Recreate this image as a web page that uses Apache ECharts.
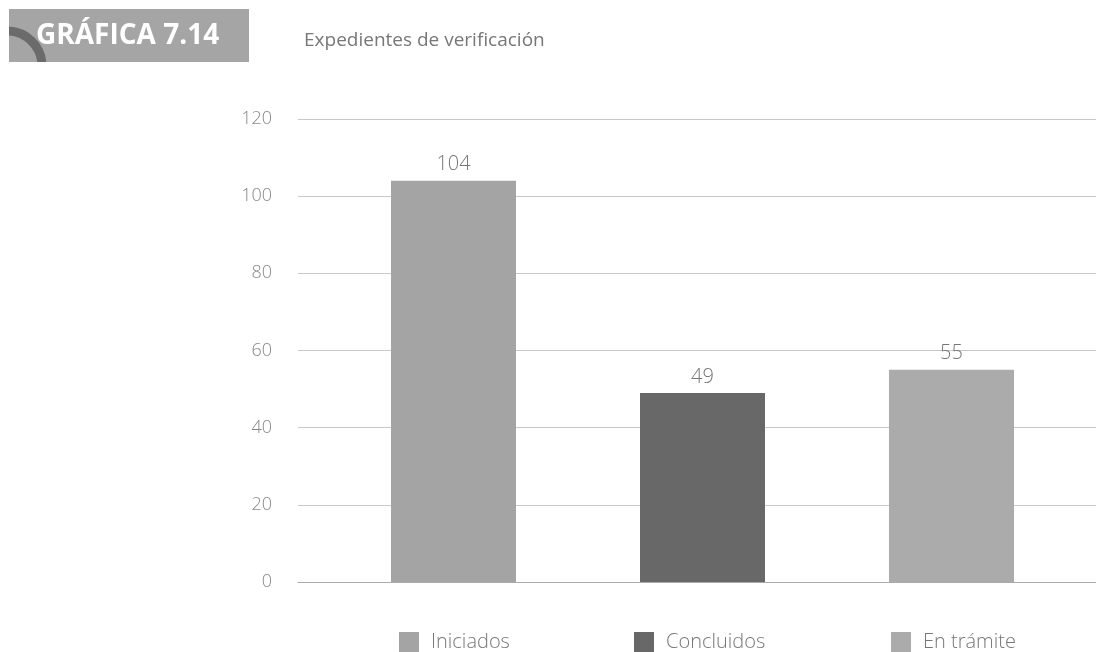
<!DOCTYPE html>
<html><head><meta charset="utf-8">
<script src="https://cdn.jsdelivr.net/npm/echarts@6/dist/echarts.min.js"></script>
<style>html,body{margin:0;padding:0;background:#fff}#c{width:1096px;height:652px}</style>
</head><body><div id="c"></div>
<script>
const categories = ['Iniciados', 'Concluidos', 'En trámite'];
const values = [104, 49, 55];
const yTicks = [0, 20, 40, 60, 80, 100, 120];
const colors = ['#a4a4a4', '#686868', '#ababab'];

const chart = echarts.init(document.getElementById('c'));
const font = '"Open Sans", "Noto Sans", sans-serif';
const series = categories.map((name, i) => ({
  name: name,
  type: 'bar',
  xAxisIndex: 0, yAxisIndex: 0,
  barWidth: 125,
  barGap: '-100%',
  itemStyle: { color: colors[i] },
  label: { show: true, position: 'top', distance: 6, color: '#777', fontSize: 20, fontFamily: font, fontWeight: 300 },
  data: categories.map((c, j) => j === i ? values[i] : '-')
}));
const legendX = [399, 634, 891];
chart.setOption({
  animation: false,
  title: [
    { text: 'GRÁFICA 7.14', left: 36, top: 22, padding: 0, textStyle: { color: '#fff', fontSize: 28, fontWeight: 'bold', fontFamily: font } },
    { text: 'Expedientes de verificación', left: 304, top: 31, padding: 0, textStyle: { color: '#777', fontSize: 19, fontWeight: 'normal', fontFamily: font } }
  ],
  graphic: [
    { type: 'rect', left: 9, top: 9, z: -1, shape: { width: 240, height: 53 }, style: { fill: '#a5a5a5' } },
    { type: 'group', z: 0, children: [
      { type: 'arc', shape: { cx: 7, cy: 66, r: 35, startAngle: -Math.PI / 2, endAngle: 0 }, style: { stroke: '#6b6b6b', lineWidth: 9, fill: null },
        clipPath: { type: 'rect', shape: { x: 9, y: 9, width: 240, height: 53 } } }
    ]}
  ],
  legend: categories.map((c, i) => ({
    data: [c], left: legendX[i], top: 632, padding: 0, itemWidth: 20, itemHeight: 20, itemGap: 12,
    icon: 'rect', textStyle: { color: '#777', fontSize: 20, fontFamily: font, fontWeight: 300, padding: [0, 0, 0, 7] }
  })),
  grid: [
    { left: 329, right: 20, top: 119, bottom: 70 },
    { left: 298, right: 0, top: 119, bottom: 70 }
  ],
  xAxis: [
    { type: 'category', gridIndex: 0, data: categories, axisLine: { show: false }, axisTick: { show: false }, axisLabel: { show: false } },
    { type: 'category', gridIndex: 1, data: categories, axisLine: { show: true, lineStyle: { color: '#aaa', width: 1 } }, axisTick: { show: false }, axisLabel: { show: false } }
  ],
  yAxis: [
    { type: 'value', gridIndex: 0, min: 0, max: 120, interval: 20, axisLabel: { show: false }, splitLine: { show: false }, axisLine: { show: false } },
    { type: 'value', gridIndex: 1, min: yTicks[0], max: yTicks[yTicks.length - 1], interval: yTicks[1] - yTicks[0],
      axisLine: { show: false }, axisTick: { show: false },
      axisLabel: { margin: 26, color: '#888', fontSize: 18, fontFamily: font, fontWeight: 300 },
      splitLine: { lineStyle: { color: '#c8c8c8', width: 1 } } }
  ],
  series: series
});
</script></body></html>
